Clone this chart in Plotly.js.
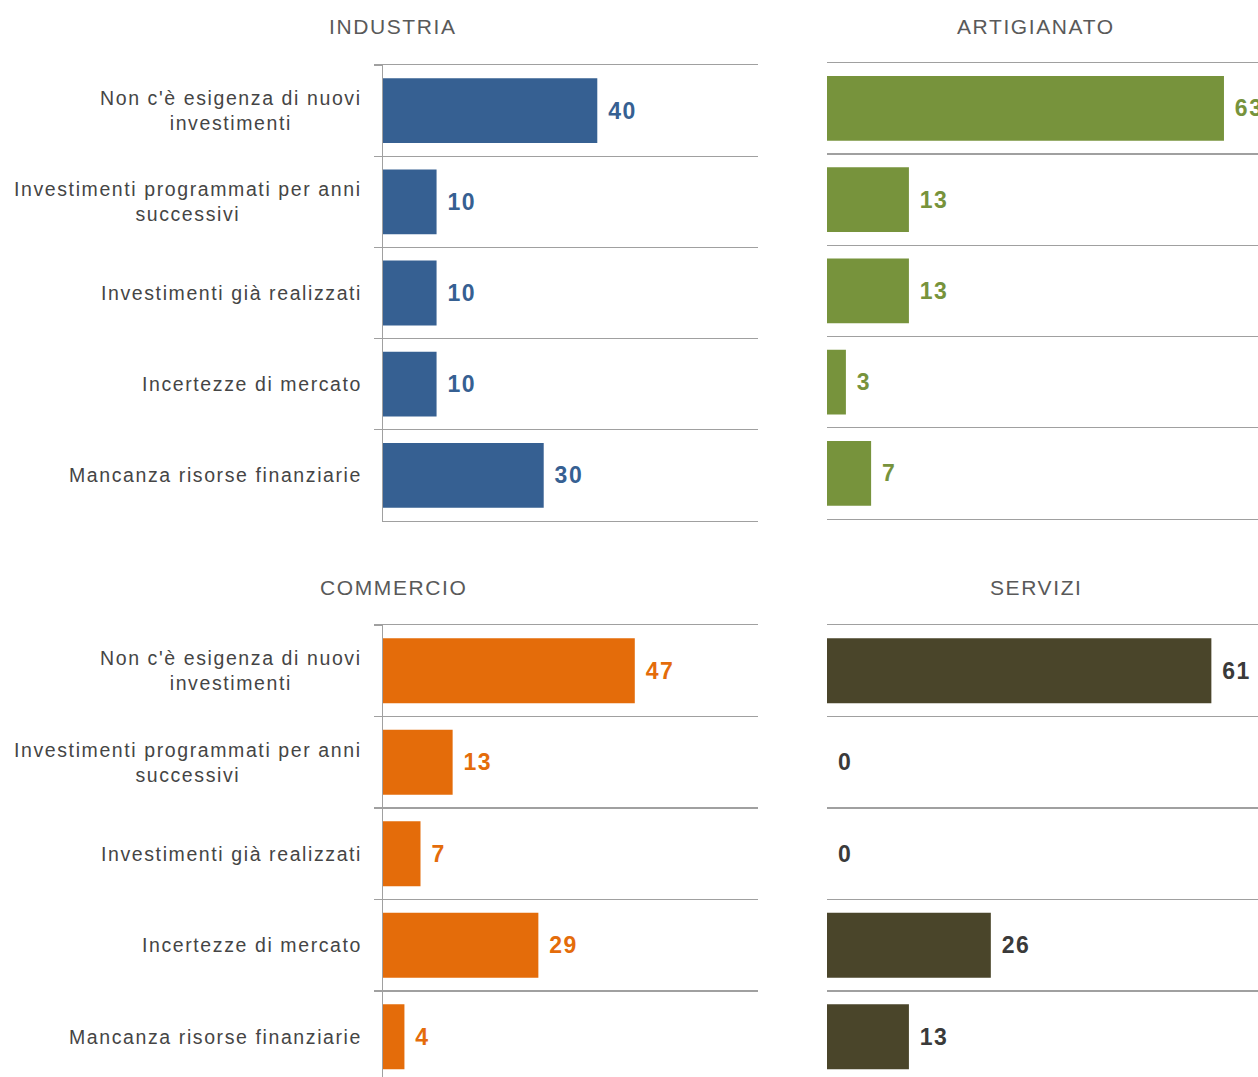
<!DOCTYPE html>
<html>
<head>
<meta charset="utf-8">
<script src="https://cdn.plot.ly/plotly-3.0.1.min.js"></script>
<style>
  html, body { margin: 0; padding: 0; background: #ffffff; overflow: hidden; }
  #chart { width: 1258px; height: 1077px; }
  .annotation-text { letter-spacing: 1.6px; }
  .bartext { letter-spacing: 1.5px; }
</style>
</head>
<body>
<div id="chart"></div>
<script>
// ---- data ----
const categories = [
  "Non c'è esigenza di nuovi<br>investimenti",
  "Investimenti programmati per anni<br>successivi",
  "Investimenti già realizzati",
  "Incertezze di mercato",
  "Mancanza risorse finanziarie"
];
const panelTitles = ["INDUSTRIA", "ARTIGIANATO", "COMMERCIO", "SERVIZI"];
const industria   = [40, 10, 10, 10, 30];
const artigianato = [63, 13, 13, 3, 7];
const commercio   = [47, 13, 7, 29, 4];
const servizi     = [61, 0, 0, 26, 13];

// ---- styling ----
const W = 1258, H = 1077;
const barColors  = ["#366092", "#77933C", "#E46C0A", "#4A452A"];
const textColors = ["#366092", "#77933C", "#E46C0A", "#3a3a3a"];
const gridCol = "#a0a0a0";
const labelCol = "#454545";
const font = "Liberation Sans, Arial, sans-serif";

const series = [industria, artigianato, commercio, servizi];
const axisIds = [["x","y"],["x2","y2"],["x3","y3"],["x4","y4"]];

const traces = series.map((vals, i) => ({
  type: "bar",
  orientation: "h",
  x: vals,
  y: categories,
  xaxis: axisIds[i][0],
  yaxis: axisIds[i][1],
  marker: { color: barColors[i], line: { width: 0 } },
  texttemplate: "\u00a0%{x}",
  textposition: "outside",
  cliponaxis: false,
  constraintext: "none",
  textfont: { family: font, size: 23, weight: "bold", color: textColors[i] },
  hoverinfo: "skip"
}));

const leftX  = [383 / W, 758 / W];
const rightX = [827 / W, 1];
const px2y = p => 1 - p / H;

function xAx(dom, range, anchor, top) {
  return { domain: dom, range: range, anchor: anchor, showgrid: false, zeroline: false,
           showticklabels: false, ticks: "", fixedrange: true,
           showline: true, linecolor: gridCol, linewidth: 1.2,
           side: top ? "bottom" : "top", mirror: top ? true : false };
}
function yAx(dom, range, anchor, left) {
  return { domain: dom, range: range, anchor: anchor, type: "category",
           categoryorder: "array", categoryarray: categories,
           tickson: "boundaries", showgrid: true, gridcolor: gridCol, gridwidth: 1.2,
           showticklabels: false, zeroline: false,
           showline: left, linecolor: gridCol, linewidth: 1.2,
           ticks: left ? "outside" : "", ticklen: 8, tickcolor: gridCol, tickwidth: 1.2,
           fixedrange: true };
}

const annotations = [];
const titlePos = [[393, 26], [1036, 26], [393, 587], [1036, 587]];
panelTitles.forEach((t, i) => {
  annotations.push({
    text: t, xref: "paper", yref: "paper",
    x: titlePos[i][0] / W, y: px2y(titlePos[i][1]),
    xanchor: "center", yanchor: "middle", showarrow: false,
    font: { family: font, size: 21, color: "#595959" }
  });
});
["y", "y3"].forEach(yr => {
  categories.forEach(c => {
    annotations.push({
      text: c, xref: "paper", yref: yr, x: 364 / W, y: c,
      xanchor: "right", yanchor: "middle", align: "center", showarrow: false,
      font: { family: font, size: 19.5, color: labelCol }
    });
  });
});

const layout = {
  width: W, height: H,
  margin: { l: 0, r: 0, t: 0, b: 0, pad: 0 },
  paper_bgcolor: "#ffffff", plot_bgcolor: "#ffffff",
  showlegend: false,
  bargap: 0.29,
  font: { family: font, color: labelCol },
  xaxis:  xAx(leftX,  [0, 70],   "y",  true),
  yaxis:  yAx([px2y(521), px2y(65)],  [4.5, -0.5], "x", true),
  xaxis2: xAx(rightX, [0, 68.4], "y2", true),
  yaxis2: yAx([px2y(519), px2y(62.7)], [4.5, -0.5], "x2", false),
  xaxis3: xAx(leftX,  [0, 70],   "y3", false),
  yaxis3: yAx([0, px2y(625)], [4.44, -0.5], "x3", true),
  xaxis4: xAx(rightX, [0, 68.4], "y4", false),
  yaxis4: yAx([0, px2y(625)], [4.44, -0.5], "x4", false),
  annotations: annotations
};

Plotly.newPlot("chart", traces, layout, { displayModeBar: false, staticPlot: true });
</script>
</body>
</html>
